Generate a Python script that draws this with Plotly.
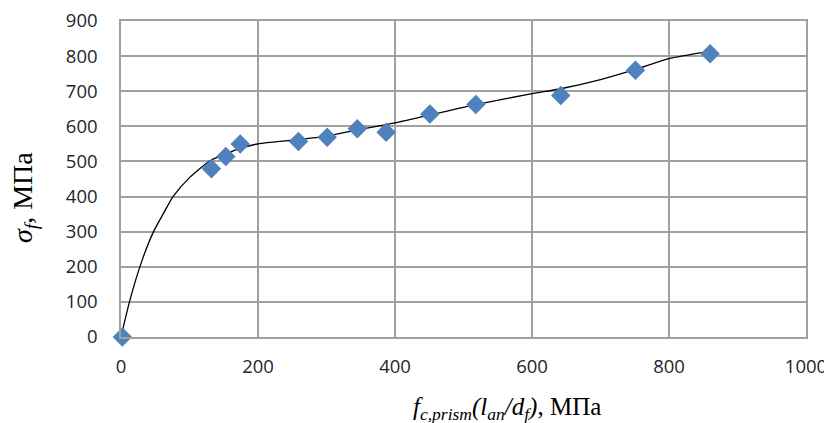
import plotly.graph_objects as go

# measured points
x_pts = [2, 132, 153, 174, 259, 301, 345, 387, 451, 518, 642, 751, 860]
y_pts = [0, 479, 514, 550, 557, 569, 593, 583, 635, 662, 688, 760, 807]

# trend curve
x_curve = [0, 13, 30, 47, 62, 76, 100, 130, 150, 175, 200, 259, 300, 345, 400, 452, 518, 600, 642, 700, 751, 800, 857]
y_curve = [0, 105, 214, 298, 352, 400, 454, 502, 519, 538, 550, 562, 572, 590, 610, 633, 662, 693, 707, 733, 762, 793, 813]

x_ticks = [0, 200, 400, 600, 800, 1000]
y_ticks = [0, 100, 200, 300, 400, 500, 600, 700, 800, 900]

fig = go.Figure()
fig.add_trace(go.Scatter(x=x_curve, y=y_curve, mode="lines",
                         line=dict(color="black", width=1.3, shape="spline", smoothing=0.6),
                         showlegend=False, hoverinfo="skip"))
fig.add_trace(go.Scatter(x=x_pts, y=y_pts, mode="markers",
                         marker=dict(symbol="diamond", size=15, color="#4F81BD"),
                         showlegend=False))

tick_font = dict(family="Open Sans, Liberation Sans, sans-serif", size=18.5, color="#262626")
serif = "Liberation Serif, Times New Roman, serif"
fig.update_layout(
    width=832, height=423,
    margin=dict(l=113, r=34, t=13, b=94),
    plot_bgcolor="white", paper_bgcolor="white",
    xaxis=dict(range=[0, 1000], tickvals=x_ticks, showgrid=True, gridcolor="#A0A0A0", gridwidth=1.5,
               showline=True, linecolor="#A0A0A0", linewidth=1.5, mirror=True, zeroline=False,
               tickfont=tick_font, ticks="outside", ticklen=12, tickcolor="rgba(0,0,0,0)",
               automargin=False, ticklabeloverflow="allow"),
    yaxis=dict(range=[0, 900], tickvals=y_ticks, showgrid=True, gridcolor="#A0A0A0", gridwidth=1.5,
               showline=True, linecolor="#A0A0A0", linewidth=1.5, mirror=True, zeroline=False,
               tickfont=tick_font, ticks="outside", ticklen=18, tickcolor="rgba(0,0,0,0)",
               automargin=False, ticklabeloverflow="allow"),
    annotations=[
        dict(text="<i>f</i><sub><i>c,prism</i></sub><i>(l</i><sub><i>an</i></sub><i>/d</i><sub><i>f</i></sub><i>)</i>, МПа",
             xref="paper", yref="paper", x=0.564, y=-0.225, xanchor="center", yanchor="middle",
             showarrow=False, font=dict(family=serif, size=25, color="black")),
        dict(text="<i>σ</i><sub><i>f</i></sub>, МПа",
             xref="paper", yref="paper", x=-0.14, y=0.44, xanchor="center", yanchor="middle",
             textangle=-90, showarrow=False, font=dict(family=serif, size=28, color="black")),
    ],
)
fig.update_traces(cliponaxis=False)
fig.write_html("out.html")
